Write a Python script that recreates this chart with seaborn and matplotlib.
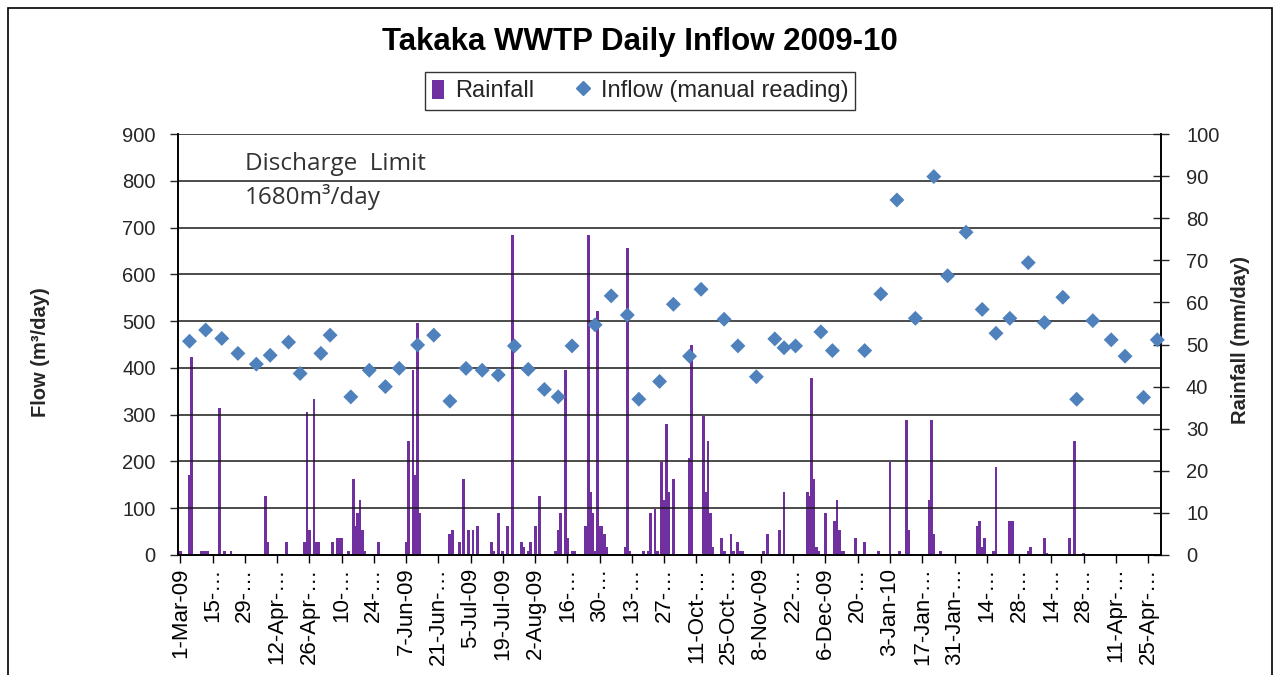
import numpy as np
import pandas as pd
import matplotlib
matplotlib.use("Agg")
import matplotlib.pyplot as plt
import seaborn as sns
from matplotlib.patches import Patch, Rectangle
from matplotlib.lines import Line2D

# days counted from 1-Mar-09
inflow_day = [4, 11, 18, 25, 33, 39, 47, 52, 61, 65, 74, 82, 89, 95, 103, 110, 117, 124,
              131, 138, 145, 151, 158, 164, 170, 180, 187, 194, 199, 208, 214, 221, 226,
              236, 242, 250, 258, 262, 267, 278, 283, 297, 304, 311, 319, 327, 333, 341,
              348, 354, 360, 368, 375, 383, 389, 396, 404, 410, 418, 424]
inflow_m3 = [457, 481, 463, 431, 408, 427, 455, 388, 431, 470, 338, 395, 360, 399, 449, 470,
             329, 399, 395, 385, 447, 397, 354, 338, 447, 492, 554, 513, 333, 371, 536, 425,
             568, 504, 447, 381, 462, 443, 447, 477, 437, 437, 558, 759, 506, 809, 597, 690,
             525, 474, 506, 625, 497, 551, 333, 501, 460, 425, 337, 460]

rain_day = [0, 4, 5, 9, 10, 11, 12, 17, 19, 22, 37, 38, 46, 54, 55, 56, 58, 59, 60, 66, 68,
            69, 70, 73, 75, 76, 77, 78, 79, 80, 86, 98, 99, 101, 102, 103, 104, 117, 118, 121,
            123, 125, 127, 129, 135, 136, 138, 140, 142, 144, 148, 149, 151, 152, 154, 156,
            163, 164, 165, 167, 168, 170, 171, 176, 177, 178, 179, 180, 181, 182, 183, 184,
            185, 193, 194, 195, 201, 203, 204, 206, 207, 209, 210, 211, 212, 214, 221, 222,
            227, 228, 229, 230, 231, 235, 236, 239, 240, 242, 243, 244, 253, 255, 260, 262,
            272, 273, 274, 275, 276, 277, 280, 284, 285, 286, 287, 288, 293, 297, 303, 308,
            312, 315, 316, 325, 326, 327, 330, 346, 347, 348, 349, 353, 354, 360, 361, 368,
            369, 375, 376, 386, 388, 392]
rain_mm = [1, 19, 47, 1, 1, 1, 1, 35, 1, 1, 14, 3, 3, 3, 34, 6, 37, 3, 3, 3, 4,
           4, 4, 1, 18, 7, 10, 13, 6, 1, 3, 3, 27, 44, 19, 55, 10, 5, 6, 3,
           18, 6, 6, 7, 3, 1, 10, 1, 7, 76, 3, 2, 1, 3, 7, 14,
           1, 6, 10, 44, 4, 1, 1, 7, 76, 15, 10, 1, 58, 7, 7, 5,
           2, 2, 73, 1, 1, 1, 10, 11, 1, 22, 13, 31, 15, 18, 23, 50,
           33, 15, 27, 10, 2, 4, 1, 5, 1, 3, 1, 1, 1, 5, 6, 15,
           15, 14, 42, 18, 2, 1, 10, 8, 13, 6, 1, 1, 4, 3, 1, 22,
           1, 32, 6, 13, 32, 5, 1, 7, 8, 2, 4, 1, 21, 8, 8, 1,
           2, 4, 0.5, 4, 27, 0.5]

tick_labels = ['1-Mar-09', '15-…', '29-…', '12-Apr-…', '26-Apr-…', '10-…', '24-…',
               '7-Jun-09', '21-Jun-…', '5-Jul-09', '19-Jul-09', '2-Aug-09', '16-…', '30-…',
               '13-…', '27-…', '11-Oct-…', '25-Oct-…', '8-Nov-09', '22-…', '6-Dec-09',
               '20-…', '3-Jan-10', '17-Jan-…', '31-Jan-…', '14-…', '28-…', '14-…', '28-…',
               '11-Apr-…', '25-Apr-…']
tick_day = np.arange(len(tick_labels)) * 14

rain = pd.DataFrame({'day': rain_day, 'mm': rain_mm})
flow = pd.DataFrame({'day': inflow_day, 'm3': inflow_m3})

sns.set_style("ticks")
plt.rcParams['font.family'] = ['Liberation Sans', 'DejaVu Sans']

purple = '#7030A0'
blue = '#4F81BD'

fig = plt.figure(figsize=(12.8, 6.75), dpi=100)
ax = fig.add_axes([178 / 1280, 1 - 555 / 675, (1161 - 178) / 1280, (555 - 134) / 675])
ax2 = ax.twinx()

sns.barplot(data=rain, x='day', y='mm', native_scale=True, ax=ax2, color=purple,
            width=1.25, linewidth=0, errorbar=None, saturation=1)
sns.scatterplot(data=flow, x='day', y='m3', ax=ax, marker='D', s=58, color=blue,
                edgecolor='none', zorder=5, clip_on=False)

ax.set_zorder(ax2.get_zorder() + 1)
ax.patch.set_visible(False)

ax.set_xlim(-1, 425.6)
ax.set_ylim(0, 900)
ax2.set_ylim(0, 100)
ax.set_yticks(np.arange(0, 901, 100))
ax2.set_yticks(np.arange(0, 101, 10))
ax.set_xticks(tick_day)
ax.set_xticklabels(tick_labels, rotation=90, fontsize=16)
ax.tick_params(axis='x', direction='out', length=6, width=1, pad=3, colors='black')
ax.tick_params(axis='y', direction='out', length=6, width=1, pad=10, labelsize=14.5)
ax2.tick_params(axis='y', direction='inout', length=12, width=1, pad=12, labelsize=14.5)
ax.set_xlabel('')
ax.set_ylabel('')
ax2.set_xlabel('')
ax2.set_ylabel('')

ax.grid(axis='y', color='#1a1a1a', linewidth=1.1)
for a in (ax, ax2):
    a.spines['top'].set_visible(False)
    for s in ('left', 'right', 'bottom'):
        a.spines[s].set_color('black')
        a.spines[s].set_linewidth(1.2)

fig.text(0.5, 1 - 42 / 675, 'Takaka WWTP Daily Inflow 2009-10', ha='center', va='center',
         fontsize=22.5, fontweight='bold', color='black')
fig.text(40 / 1280, 1 - 352 / 675, 'Flow (m³/day)', rotation=90, ha='center', va='center',
         fontsize=14.5, fontweight='bold')
fig.text(1240 / 1280, 1 - 340 / 675, 'Rainfall (mm/day)', rotation=90, ha='center',
         va='center', fontsize=14.5, fontweight='bold')

ax.text(0.068, 0.928, 'Discharge  Limit', transform=ax.transAxes, ha='left', va='center',
        fontsize=17.5, color='#333333', family=['Open Sans', 'DejaVu Sans'])
ax.text(0.068, 0.85, '1680m³/day', transform=ax.transAxes, ha='left', va='center',
        fontsize=17.5, color='#333333', family=['Open Sans', 'DejaVu Sans'])

handles = [Patch(facecolor=purple, edgecolor='none', label='Rainfall'),
           Line2D([], [], marker='D', linestyle='none', color=blue, markersize=7.5,
                  label='Inflow (manual reading)')]
fig.legend(handles=handles, loc='center', bbox_to_anchor=(0.5, 1 - 91 / 675), ncol=2,
           frameon=True, fancybox=False, edgecolor='black',
           handlelength=0.5, handleheight=0.9, handletextpad=0.5, columnspacing=1.8,
           borderpad=0.3, prop={'family': ['Liberation Sans', 'DejaVu Sans'], 'size': 17})

fig.add_artist(Rectangle((8 / 1280, -0.05), 1264 / 1280, 1.05 - 8 / 675,
                         transform=fig.transFigure, fill=False, edgecolor='black',
                         linewidth=1.2))

fig.savefig('out.png', dpi=100)
